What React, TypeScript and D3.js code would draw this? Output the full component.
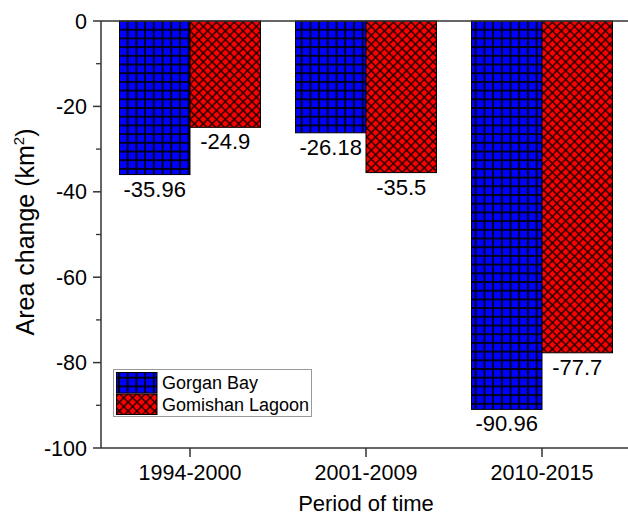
import React from "react";
import * as d3 from "d3";

const periods = ["1994-2000", "2001-2009", "2010-2015"];
const seriesNames = ["Gorgan Bay", "Gomishan Lagoon"];
const gorganBay = [-35.96, -26.18, -90.96];
const gomishanLagoon = [-24.9, -35.5, -77.7];
const yTicks = [0, -20, -40, -60, -80, -100];
const yMinorTicks = [-10, -30, -50, -70, -90];

const W = 628;
const H = 517;
const left = 101;
const right = 628;
const top = 21;
const bottom = 448;
const font = "Arial, 'Liberation Sans', Helvetica, sans-serif";
const axisColor = "#333";

export default function App() {
  const y = d3.scaleLinear().domain([0, -100]).range([top, bottom]);
  const x0 = d3.scaleBand().domain(periods).range([102, 630]);
  const x1 = d3.scaleBand().domain(seriesNames).range([-70.5, 70.5]);
  const center = (p: string) => (x0(p) as number) + x0.bandwidth() / 2;
  const series = [
    { name: seriesNames[0], values: gorganBay, fill: "url(#gridBlue)" },
    { name: seriesNames[1], values: gomishanLagoon, fill: "url(#crossRed)" },
  ];
  const cell = 8.7;
  const dcell = 6.25;
  const lw = 1.7;

  return (
    <svg width={W} height={H} style={{ display: "block", position: "absolute", left: 0, top: 0 }}>
      <defs>
        <pattern id="gridBlue" patternUnits="userSpaceOnUse" width={cell} height={cell} x={119} y={21}>
          <rect width={cell} height={cell} fill="#000" />
          <rect x={lw / 2} y={lw / 2} width={cell - lw} height={cell - lw} fill="#0000ff" />
        </pattern>
        <pattern
          id="crossRed"
          patternUnits="userSpaceOnUse"
          width={dcell}
          height={dcell}
          patternTransform="rotate(45)"
        >
          <rect width={dcell} height={dcell} fill="#1a0000" />
          <rect x={0.7} y={0.7} width={dcell - 1.4} height={dcell - 1.4} fill="#ff0000" />
        </pattern>
      </defs>
      <rect width={W} height={H} fill="#fff" />

      {series.map((s) =>
        periods.map((p, i) => {
          const v = s.values[i];
          const xPos = center(p) + (x1(s.name) as number);
          const bw = x1.bandwidth();
          return (
            <g key={s.name + p}>
              <rect
                x={xPos}
                y={y(0)}
                width={bw}
                height={y(v) - y(0)}
                fill={s.fill}
                stroke="#000"
                strokeWidth={1}
              />
              <text
                x={xPos + bw / 2}
                y={y(v) + 22}
                textAnchor="middle"
                fontFamily={font}
                fontSize={22}
                fill="#000"
              >
                {String(v)}
              </text>
            </g>
          );
        })
      )}

      {/* frame lines */}
      <line x1={left} x2={right} y1={top} y2={top} stroke={axisColor} strokeWidth={1.5} />
      <line x1={left} x2={right} y1={bottom} y2={bottom} stroke={axisColor} strokeWidth={1.5} />
      <line x1={left} x2={left} y1={top} y2={bottom} stroke={axisColor} strokeWidth={1.5} />

      {/* y axis ticks */}
      {yTicks.map((t) => (
        <g key={t}>
          <line x1={left - 8} x2={left} y1={y(t)} y2={y(t)} stroke={axisColor} strokeWidth={1.5} />
          <text
            x={left - 14}
            y={y(t) + 7.5}
            textAnchor="end"
            fontFamily={font}
            fontSize={21.5}
            fill="#000"
          >
            {t}
          </text>
        </g>
      ))}
      {yMinorTicks.map((t) => (
        <line key={t} x1={left - 5} x2={left} y1={y(t)} y2={y(t)} stroke={axisColor} strokeWidth={1.3} />
      ))}

      {/* x axis ticks */}
      {periods.map((p) => (
        <g key={p}>
          <line x1={center(p)} x2={center(p)} y1={bottom} y2={bottom + 9} stroke={axisColor} strokeWidth={1.5} />
          <text
            x={center(p)}
            y={480}
            textAnchor="middle"
            fontFamily={font}
            fontSize={21.5}
            fill="#000"
          >
            {p}
          </text>
        </g>
      ))}

      <text x={366} y={511} textAnchor="middle" fontFamily={font} fontSize={22} fill="#000">
        Period of time
      </text>

      <text
        transform="translate(34,232) rotate(-90)"
        textAnchor="middle"
        fontFamily={font}
        fontSize={25}
        fill="#000"
      >
        Area change (km<tspan dy={-10} fontSize={15}>2</tspan>
        <tspan dy={10}>)</tspan>
      </text>

      {/* legend */}
      <g>
        <rect x={113.5} y={369.5} width={198} height={47} fill="#fff" stroke="#999" strokeWidth={1} />
        {series.map((s, i) => (
          <g key={s.name}>
            <rect x={116.5} y={372.5 + i * 21.5} width={40.5} height={20.5} fill={s.fill} stroke="#000" strokeWidth={1} />
            <text x={162} y={389 + i * 21.5} fontFamily={font} fontSize={18} fill="#000">
              {s.name}
            </text>
          </g>
        ))}
      </g>
    </svg>
  );
}
